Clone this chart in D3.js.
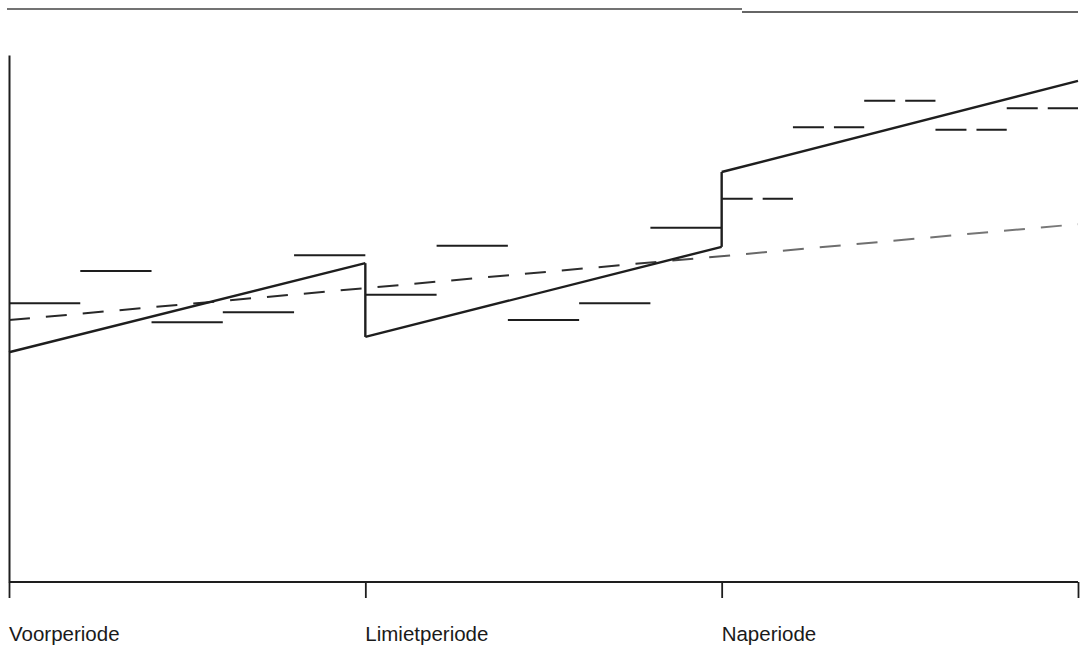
<!DOCTYPE html>
<html>
<head>
<meta charset="utf-8">
<script src="https://cdn.jsdelivr.net/npm/d3@7"></script>
<style>
  html, body { margin: 0; padding: 0; background: #fff; }
  svg { display: block; }
  text { font-family: "Liberation Sans", Arial, sans-serif; fill: #1a1a1a; }
</style>
</head>
<body>
<svg id="chart" width="1080" height="646"></svg>
<script>
// ---- data ----
const periods = ["Voorperiode", "Limietperiode", "Naperiode"];
const periodTicks = [0, 5, 10, 15];            // segment index at period boundaries
// five sub-period step values per period
const voorValues   = [52.9, 59.0, 49.3, 51.2, 62.0];
const limietValues = [54.5, 63.8, 49.7, 52.9, 67.2];
const naValues     = [72.7, 86.3, 91.3, 85.8, 89.9];
// solid trend line (piecewise, jumps at period boundaries)
const trendSolid = [
  [[0, 43.6], [5, 60.5]],
  [[5, 46.5], [10, 63.6]],
  [[10, 77.8], [15, 95.1]]
];
const trendJumps = [[5, 60.5, 46.5], [10, 63.6, 77.8]];
// dashed overall trend line
const trendDashed = [[0, 49.7], [15, 67.9]];

// ---- layout ----
const svg = d3.select("#chart");
const x = d3.scaleLinear().domain([0, 15]).range([9, 1078]);
const y = d3.scaleLinear().domain([0, 100]).range([582, 55]);
const ink = "#1e1e1e";

// gradient: dashed trend fades to grey in the last period (as in the scan)
const grad = svg.append("defs").append("linearGradient")
  .attr("id", "dashFade").attr("gradientUnits", "userSpaceOnUse")
  .attr("x1", x(0)).attr("x2", x(15)).attr("y1", 0).attr("y2", 0);
grad.append("stop").attr("offset", "0%").attr("stop-color", "#262626");
grad.append("stop").attr("offset", "58%").attr("stop-color", "#2e2e2e");
grad.append("stop").attr("offset", "70%").attr("stop-color", "#6a6a6a");
grad.append("stop").attr("offset", "100%").attr("stop-color", "#7a7a7a");

// top page rule (scan border)
svg.append("line").attr("x1", 7).attr("x2", 742).attr("y1", 9).attr("y2", 9)
  .attr("stroke", "#444").attr("stroke-width", 1.6);
svg.append("line").attr("x1", 742).attr("x2", 1078).attr("y1", 12).attr("y2", 12)
  .attr("stroke", "#333").attr("stroke-width", 1.4);

// axes
const xAxis = d3.axisBottom(x).tickValues(periodTicks).tickSize(16).tickFormat("");
const gx = svg.append("g").attr("transform", `translate(0,${y(0)})`).call(xAxis);
gx.select(".domain").attr("d", `M${x(0)},0H${x(15)}`).attr("stroke", ink).attr("stroke-width", 1.8);
gx.selectAll(".tick line").attr("stroke", ink).attr("stroke-width", 1.8);

const yAxis = d3.axisLeft(y).tickValues([]).tickSizeOuter(0);
const gy = svg.append("g").attr("transform", `translate(${x(0)},0)`).call(yAxis);
gy.select(".domain").attr("stroke", ink).attr("stroke-width", 2);

// period labels
svg.append("g").selectAll("text").data(periods).join("text")
  .attr("x", (d, i) => x(periodTicks[i]))
  .attr("y", 641)
  .attr("font-size", 20.5)
  .text(d => d);

// step segments
const steps = [];
[voorValues, limietValues, naValues].forEach((vals, p) => {
  vals.forEach((v, i) => steps.push({ i: p * 5 + i, v, dashed: p === 2 }));
});
svg.append("g").selectAll("line").data(steps).join("line")
  .attr("x1", d => x(d.i))
  .attr("x2", d => x(d.i + 1))
  .attr("y1", d => y(d.v))
  .attr("y2", d => y(d.v))
  .attr("stroke", ink)
  .attr("stroke-width", 2)
  .attr("stroke-dasharray", d => d.dashed ? "31,10" : null);

// dashed overall trend
const line = d3.line().x(d => x(d[0])).y(d => y(d[1]));
svg.append("path").datum(trendDashed)
  .attr("d", line).attr("fill", "none")
  .attr("stroke", "url(#dashFade)").attr("stroke-width", 2)
  .attr("stroke-dasharray", "21,16");

// solid piecewise trend
svg.append("g").selectAll("path").data(trendSolid).join("path")
  .attr("d", line).attr("fill", "none")
  .attr("stroke", ink).attr("stroke-width", 2.4);
svg.append("g").selectAll("line").data(trendJumps).join("line")
  .attr("x1", d => x(d[0])).attr("x2", d => x(d[0]))
  .attr("y1", d => y(d[1])).attr("y2", d => y(d[2]))
  .attr("stroke", ink).attr("stroke-width", 2.4);
</script>
</body>
</html>
